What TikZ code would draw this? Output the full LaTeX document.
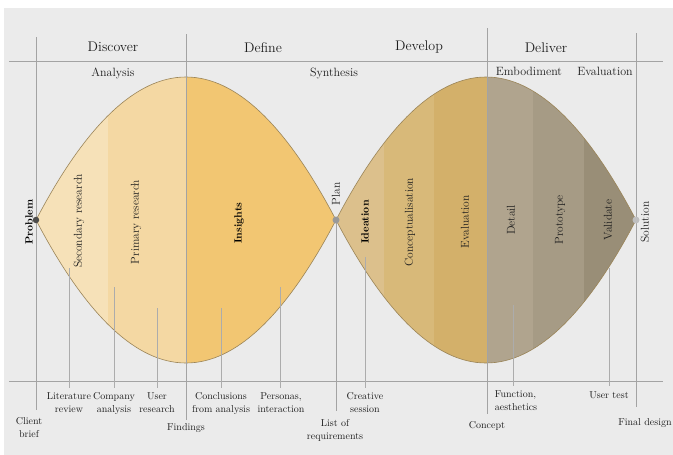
\documentclass[tikz,border=0pt]{standalone}
\usepackage{xcolor}
\definecolor{bg}{HTML}{EBEBEB}
\definecolor{sA}{HTML}{F6E1B8}
\definecolor{sB}{HTML}{F4D8A3}
\definecolor{sC}{HTML}{F2C672}
\definecolor{sD}{HTML}{DCC08C}
\definecolor{sE}{HTML}{D8B979}
\definecolor{sF}{HTML}{D3B06A}
\definecolor{sG}{HTML}{B0A48E}
\definecolor{sH}{HTML}{A69B85}
\definecolor{sI}{HTML}{998E77}
\definecolor{edge}{HTML}{9A8458}
\definecolor{rule}{HTML}{A3A3A3}
\definecolor{txt}{HTML}{1E1E1E}
\begin{document}
\begin{tikzpicture}[x=1pt,y=-1pt,
  rulel/.style={draw=rule,line width=0.6pt},
  leader/.style={draw=rule!90,line width=0.6pt},
  head/.style={text=txt,font=\fontsize{14}{16}\selectfont,inner sep=0pt},
  sub/.style={text=txt,font=\fontsize{12}{14}\selectfont,inner sep=0pt},
  vlab/.style={text=txt,font=\fontsize{11.5}{13}\selectfont,rotate=90,inner sep=0pt},
  vbold/.style={text=black,font=\fontsize{10.5}{13}\selectfont\bfseries,rotate=90,inner sep=0pt},
  blab/.style={text=txt,font=\fontsize{10}{13}\selectfont,align=center,inner sep=0pt},
  dot/.style={circle,inner sep=0pt,minimum size=7pt,draw=none}]
\useasboundingbox (0,0) rectangle (673,455);
\fill[white] (0,0) rectangle (673,455);
\fill[bg] (4,8) rectangle (673,455);

% diamond outlines (parabolic arcs as cubic curves)
\def\dia{(36,220) .. controls (136,29.33) and (236,29.33) .. (336,220) .. controls (236,410.67) and (136,410.67) .. (36,220) -- cycle}
\def\dib{(336,220) .. controls (436,29.33) and (536,29.33) .. (636,220) .. controls (536,410.67) and (436,410.67) .. (336,220) -- cycle}
\begin{scope}
\clip \dia;
\fill[sA] (36,60) rectangle (108,380);
\fill[sB] (108,60) rectangle (186,380);
\fill[sC] (186,60) rectangle (336,380);
\end{scope}
\draw[edge,line width=0.6pt] \dia;

\begin{scope}
\clip \dib;
\fill[sD] (336,60) rectangle (384,380);
\fill[sE] (384,60) rectangle (434,380);
\fill[sF] (434,60) rectangle (487,380);
\fill[sG] (487,60) rectangle (533,380);
\fill[sH] (533,60) rectangle (584,380);
\fill[sI] (584,60) rectangle (636,380);
\end{scope}
\draw[edge,line width=0.6pt] \dib;

% horizontal rules
\coordinate (tl) at (9,61);  \coordinate (tr) at (663,61);
\coordinate (bl) at (9,381); \coordinate (br) at (663,381);
\draw[rulel] (tl) -- (tr);
\draw[rulel] (bl) -- (br);

% main vertical rules
\coordinate (v1t) at (36,37);  \coordinate (v1b) at (36,410);
\coordinate (v2t) at (186,34); \coordinate (v2b) at (186,420);
\coordinate (v3t) at (336,220); \coordinate (v3b) at (336,411);
\coordinate (v4t) at (487,28); \coordinate (v4b) at (487,414);
\coordinate (v5t) at (636,33); \coordinate (v5b) at (636,407);
\draw[rulel] (v1t) -- (v1b);
\draw[rulel] (v2t) -- (v2b);
\draw[rulel] (v3t) -- (v3b);
\draw[rulel] (v4t) -- (v4b);
\draw[rulel] (v5t) -- (v5b);

% leaders
\coordinate (l1t) at (69,268);  \coordinate (l1b) at (69,388);
\coordinate (l2t) at (114,287); \coordinate (l2b) at (114,388);
\coordinate (l3t) at (157,308); \coordinate (l3b) at (157,388);
\coordinate (l4t) at (221,308); \coordinate (l4b) at (221,388);
\coordinate (l5t) at (280,287); \coordinate (l5b) at (280,388);
\coordinate (l6t) at (365,257); \coordinate (l6b) at (365,388);
\coordinate (l7t) at (513,305); \coordinate (l7b) at (513,386);
\coordinate (l8t) at (609,268); \coordinate (l8b) at (609,386);
\foreach \i in {1,...,8} {\draw[leader] (l\i t) -- (l\i b);}

% dots
\node[dot,fill=black!70,minimum size=6.5pt] (pdot) at (36,220) {};
\node[dot,fill=black!40] (pldot) at (336,220) {};
\node[dot,fill=black!25] (sdot) at (636,220) {};

% headers
\node[head] (discover) at (113,47) {Discover};
\node[head] (define) at (263,48) {Define};
\node[head] (develop) at (419,47) {Develop};
\node[head] (deliver) at (546,48) {Deliver};
\node[sub] (analysis) at (113,73) {Analysis};
\node[sub] (synthesis) at (334,73) {Synthesis};
\node[sub] (embod) at (529,71) {Embodiment};
\node[sub] (evalh) at (605,71) {Evaluation};

% vertical labels
\node[vbold] (problem) at (29,222) {Problem};
\node[vlab] (secres) at (79,221) {Secondary research};
\node[vlab] (primres) at (136,222) {Primary research};
\node[vbold] (insights) at (239,223) {Insights};
\node[vlab] (plan) at (336,194) {Plan};
\node[vbold] (ideation) at (365,222) {Ideation};
\node[vlab] (concept) at (410,222) {Conceptualisation};
\node[vlab] (evaluation) at (465,222) {Evaluation};
\node[vlab] (detail) at (511,220) {Detail};
\node[vlab] (prototype) at (560,220) {Prototype};
\node[vlab] (validate) at (608,220) {Validate};
\node[vlab] (solution) at (645,222) {Solution};

% bottom labels
\node[blab] (litrev) at (69,403) {Literature\\review};
\node[blab] (compan) at (114,403) {Company\\analysis};
\node[blab] (userres) at (157,403) {User\\research};
\node[blab] (client) at (29,428) {Client\\brief};
\node[blab] (findings) at (186,428) {Findings};
\node[blab] (conclus) at (221,403) {Conclusions\\from analysis};
\node[blab] (personas) at (281,403) {Personas,\\interaction};
\node[blab] (listreq) at (335,430) {List of\\requirements};
\node[blab] (creative) at (365,403) {Creative\\session};
\node[blab] (conceptl) at (487,426) {Concept};
\node[blab,align=left] (function) at (516,401) {Function,\\aesthetics};
\node[blab] (usertest) at (609,395) {User test};
\node[blab] (final) at (645,423) {Final design};
\end{tikzpicture}
\end{document}
